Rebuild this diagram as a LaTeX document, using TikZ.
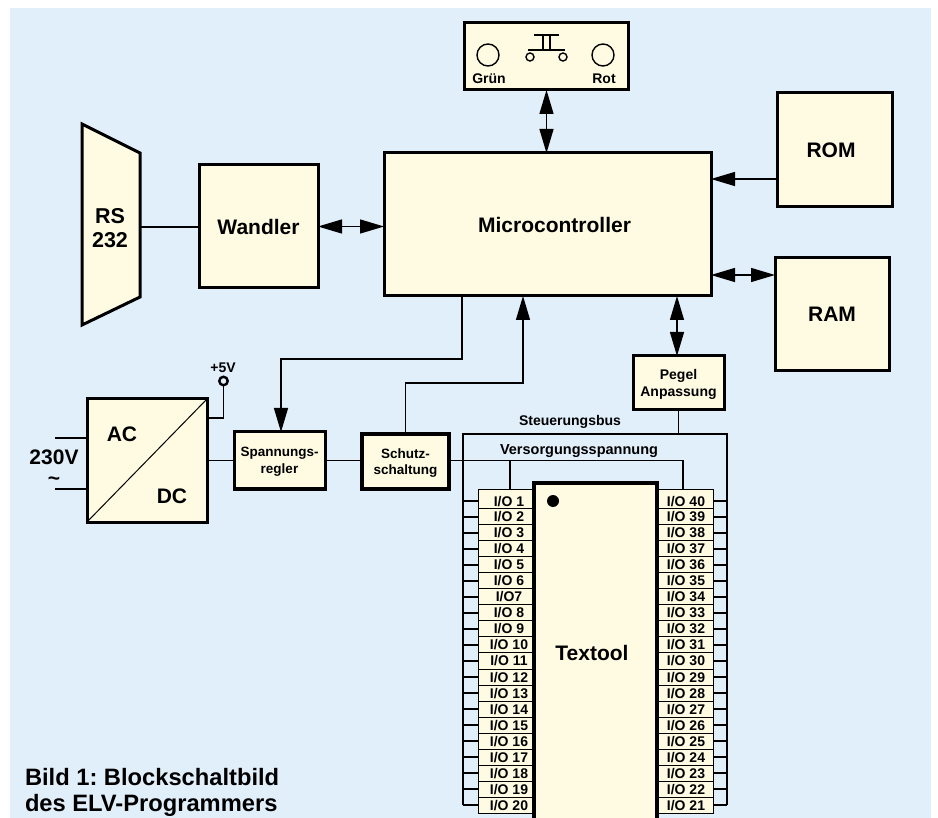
\documentclass[tikz,border=0pt]{standalone}
\usepackage{fontspec}
\setmainfont{Liberation Sans}
\usetikzlibrary{arrows.meta,calc}
\definecolor{bgblue}{HTML}{E1EFFB}
\definecolor{boxfill}{HTML}{FEFBE2}
\tikzset{
  x=1pt,y=-1pt,
  every node/.style={inner sep=0pt,outer sep=0pt,font=\bfseries},
  fs/.style={font=\fontsize{#1}{17}\selectfont\bfseries},
  blockbox/.style={draw=black,fill=boxfill,line width=3pt,align=center,text depth=-1.5pt},
  lab/.style={align=center},
  conn/.style={draw=black,line width=1.3pt},
  headend/.style={-{Triangle[length=24pt,width=14pt]}},
  headboth/.style={{Triangle[length=24pt,width=14pt]}-{Triangle[length=24pt,width=14pt]}},
  cell/.style={draw=black,fill=boxfill,line width=1pt,minimum width=#1,text height=10pt,text depth=0pt,fs=14},
  thin ring/.style={draw=black,line width=1.4pt,circle,minimum size=#1,fill=none},
}
\begin{document}
\frenchspacing
\begin{tikzpicture}
\useasboundingbox (0,0) rectangle (938,818);
\fill[bgblue] (10,8) rectangle (931,818);

% main blocks
\node[blockbox,fs=21,minimum width=327pt,minimum height=143pt] (micro) at (547.5,224.5) {\hspace*{14pt}Microcontroller};
\node[blockbox,fs=21,minimum width=119pt,minimum height=123pt] (wandler) at (258.5,226.5) {Wandler};
\node[blockbox,fs=21,minimum width=115pt,minimum height=114pt] (rom) at (834.5,150) {ROM\hspace*{7pt}};
\node[blockbox,fs=21,minimum width=114pt,minimum height=113pt] (ram) at (832,314.5) {RAM};
\node[blockbox,minimum width=164pt,minimum height=67pt] (button) at (546.5,56.5) {};
\node[blockbox,fs=14,minimum width=91pt,minimum height=54pt] (pegel) at (678.5,383) {Pegel\\Anpassung};
\node[blockbox,text depth=-3pt,font=\fontsize{13.5}{16.5}\selectfont\bfseries,minimum width=91pt,minimum height=57pt] (spann) at (279.5,460.5) {Spannungs-\\regler};
\node[blockbox,line width=4pt,font=\fontsize{13.5}{16.5}\selectfont\bfseries,minimum width=87pt,minimum height=55pt] (schutz) at (405.5,461.5) {Schutz-\\schaltung};
\node[blockbox,minimum width=120pt,minimum height=123pt] (ac) at (147,460.5) {};

% RS 232 trapezoid
\draw[line width=3pt,fill=boxfill,line join=miter] (82,124) -- (140,153) -- (140,297) -- (82,325) -- cycle;
\coordinate (rsport) at (140,227);
\node[lab,font=\fontsize{21.5}{24}\selectfont\bfseries] (rslabel) at (110,228) {RS\\232};

% AC/DC contents
\draw[line width=1pt] (ac.south west) -- (ac.north east);
\node[fs=21] (aclabel) at (122,434) {AC};
\node[fs=21] (dclabel) at (172,496) {DC};

% mains
\coordinate (mainsa) at (55,438);
\coordinate (mainsb) at (55,489);
\draw[conn] (mainsa) -- (mainsa -| ac.west);
\draw[conn] (mainsb) -- (mainsb -| ac.west);
\node[fs=21] (mainslabel) at (54,457) {230V};
\node[fs=21] (tilde) at (54,481) {\char"7E};

% +5V
\node[draw=black,line width=2.4pt,circle,minimum size=8.5pt,fill=none] (plusring) at (223.5,381) {};
\node[fs=14] (pluslabel) at (223,368) {+5V};
\draw[conn] (ac.east |- 0,418) -- (plusring.south |- 0,418) -- (plusring.south);

% button panel contents
\node[thin ring=22pt] (ledg) at (488,55) {};
\node[thin ring=22pt] (ledr) at (603,55) {};
\node[fs=14] (gruen) at (489,79) {Grün};
\node[fs=14] (rot) at (604,79) {Rot};
\draw[line width=1.3pt] (534,35) -- (559,35) (543,35) -- (543,50) (550,35) -- (550,50) (528,50) -- (565,50);
\node[thin ring=8pt] (swa) at (530,57) {};
\node[thin ring=8pt] (swb) at (563,57) {};

% I/O cells and chip
\coordinate (busnw) at (463,434);
\coordinate (busne) at (727,434);
\coordinate (bussw) at (463,805);
\coordinate (busse) at (727,805);
\node[cell=56pt,minimum height=19pt] (L1) at (506,498.5) {\raisebox{-2.5pt}{\hspace*{6pt}I/O 1}};
\node[cell=56pt,minimum height=19pt] (R1) at (685,498.5) {\raisebox{-2.5pt}{\hspace*{2pt}I/O 40}};
\foreach \k in {2,...,20}{
  \pgfmathsetmacro{\cy}{508+16.1*(\k-1)-8.05}
  \pgfmathtruncatemacro{\rn}{41-\k}
  \node[cell=56pt,minimum height=16.1pt] (L\k) at (506,\cy) {\hspace*{6pt}\ifnum\k=7 I/O7\else I/O \k\fi};
  \node[cell=56pt,minimum height=16.1pt] (R\k) at (685,\cy) {\hspace*{2pt}I/O \rn};
}
\foreach \k in {1,...,20}{
  \pgfmathsetmacro{\sy}{501+16*(\k-1)}
  \draw[conn] (bussw |- 0,\sy) -- (L\k.west |- 0,\sy);
  \draw[conn] (busse |- 0,\sy) -- (R\k.east |- 0,\sy);
}
\node[fill=boxfill,fs=21,minimum width=123pt,minimum height=335pt] (chip) at (595.5,650.5) {};
\draw[line width=4pt] (chip.south west) -- (chip.north west) -- (chip.north east) -- (chip.south east);
\node[fs=21] (chiplabel) at (592,653) {Textool};
\fill (553,501) circle (6pt);

% busses
\draw[conn] (bussw) -- (busnw) -- (busne) -- (busse);
\draw[conn] (pegel.south) -- (pegel.south |- busne);
\node[fs=14] (buslabel) at (570,422) {Steuerungsbus};
\coordinate (supplyend) at (683,460.5);
\coordinate (supplytap) at (510,460.5);
\draw[conn] (schutz.east |- supplyend) -- (supplyend) -- (supplyend |- R1.north);
\draw[conn] (supplytap) -- (supplytap |- L1.north);
\node[fs=14.5] (supplylabel) at (579,451) {Versorgungsspannung};

% connectors
\draw[conn] (rsport) -- (rsport -| wandler.west);
\draw[conn] (ac.east |- spann.west) -- (spann.west);
\draw[conn] (spann.east) -- (schutz.west |- spann.east);
\draw[conn,headboth] (wandler.east) -- (micro.west |- wandler.east);
\draw[conn,headboth] (button.south) -- (micro.north -| button.south);
\draw[conn,headend] (rom.west |- 0,179) -- (micro.east |- 0,179);
\draw[conn,headboth] (micro.east |- 0,275) -- (ram.west |- 0,275);
\draw[conn,headboth] (pegel.north -| 677,0) -- (micro.south -| 677,0);
\draw[conn,headend] (micro.south -| 462,0) -- (462,359) -- (281,359) -- (spann.north -| 281,0);
\draw[conn,headend] (schutz.north) -- (schutz.north |- 0,383) -- (523,383) -- (micro.south -| 523,0);

% caption
\node[anchor=west,fs=23.7] (caption1) at (25,777) {Bild 1: Blockschaltbild};
\node[anchor=west,fs=23.7] (caption2) at (25,805) {des ELV-Programmers};
\end{tikzpicture}
\end{document}
